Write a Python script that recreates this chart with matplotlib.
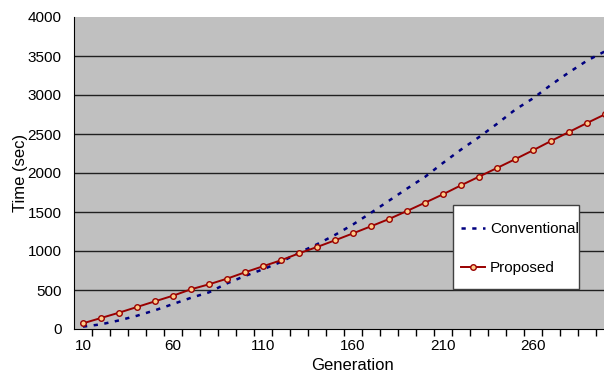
import matplotlib
matplotlib.use("Agg")
import matplotlib.pyplot as plt
from matplotlib.patches import Rectangle

plt.rcParams['font.family'] = ['Liberation Sans', 'DejaVu Sans']

generations = list(range(10, 301, 10))
conventional = [30, 60, 110, 170, 240, 320, 400, 470, 585, 680,
                765, 860, 978, 1086, 1206, 1340, 1490, 1645, 1800, 1950,
                2129, 2300, 2460, 2630, 2810, 2957, 3130, 3290, 3440, 3560]
proposed = [73, 141, 209, 282, 355, 427, 509, 573, 645, 727,
            804, 881, 970, 1051, 1137, 1226, 1317, 1410, 1513, 1619,
            1727, 1842, 1953, 2064, 2176, 2291, 2410, 2526, 2641, 2752]
x_labels = [10, 60, 110, 160, 210, 260]
y_ticks = list(range(0, 4001, 500))

W, H = 604, 373
fig = plt.figure(figsize=(W / 100, H / 100), dpi=100)
left, right, top, bottom = 74, 614, 17, 329
ax = fig.add_axes([left / W, 1 - bottom / H, (right - left) / W, (bottom - top) / H])
ax.set_facecolor('#C0C0C0')

ax.plot(generations, conventional, color='#000080', lw=1.8, linestyle=(0, (1.7, 2.6)),
        label='Conventional', zorder=3)
ax.plot(generations, proposed, color='#990000', lw=1.4, marker='o', markersize=4,
        markerfacecolor='#FFCC88', markeredgecolor='#990000', markeredgewidth=1,
        label='Proposed', zorder=4)

ax.set_xlim(5, 305)
ax.set_ylim(0, 4000)
ax.set_yticks(y_ticks)
ax.set_yticklabels([str(v) for v in y_ticks], fontsize=11)
ax.tick_params(axis='y', length=0, pad=9)
for v in y_ticks[1:-1]:
    ax.axhline(v, color='#202020', lw=1, zorder=1)

ax.set_xticks([g + 5 for g in range(10, 301, 10)])
ax.set_xticklabels([])
ax.tick_params(axis='x', which='major', length=5, width=1, direction='out', color='black')
ax.set_xticks(x_labels, minor=True)
ax.set_xticklabels([str(v) for v in x_labels], minor=True, fontsize=11)
ax.tick_params(axis='x', which='minor', length=0, pad=7)

for s in ['top', 'right']:
    ax.spines[s].set_visible(False)
ax.spines['left'].set_color('black')
ax.spines['bottom'].set_color('black')

ax.set_xlabel('Generation', fontsize=12, labelpad=-4)
ax.xaxis.set_label_coords(((352 - left) / (right - left)), -(366 - bottom) / (bottom - top))
ax.xaxis.label.set_va('center')
ax.set_ylabel('Time (sec)', fontsize=12, labelpad=0)

# legend box
bx0, by0, bx1, by1 = 453, 205, 579, 289
ax.add_patch(Rectangle((bx0 / W, 1 - by1 / H), (bx1 - bx0) / W, (by1 - by0) / H,
                       transform=fig.transFigure, facecolor='white',
                       edgecolor='#404040', lw=1, zorder=5, clip_on=False))
leg = ax.legend(loc='center left',
                bbox_to_anchor=((461 - left) / (right - left), 1 - (248.5 - top) / (bottom - top)),
                fontsize=11, frameon=False, labelspacing=1.65, handlelength=1.6,
                handletextpad=0.3, borderpad=0, borderaxespad=0)
leg.set_zorder(6)

fig.savefig('out.png', dpi=100)
